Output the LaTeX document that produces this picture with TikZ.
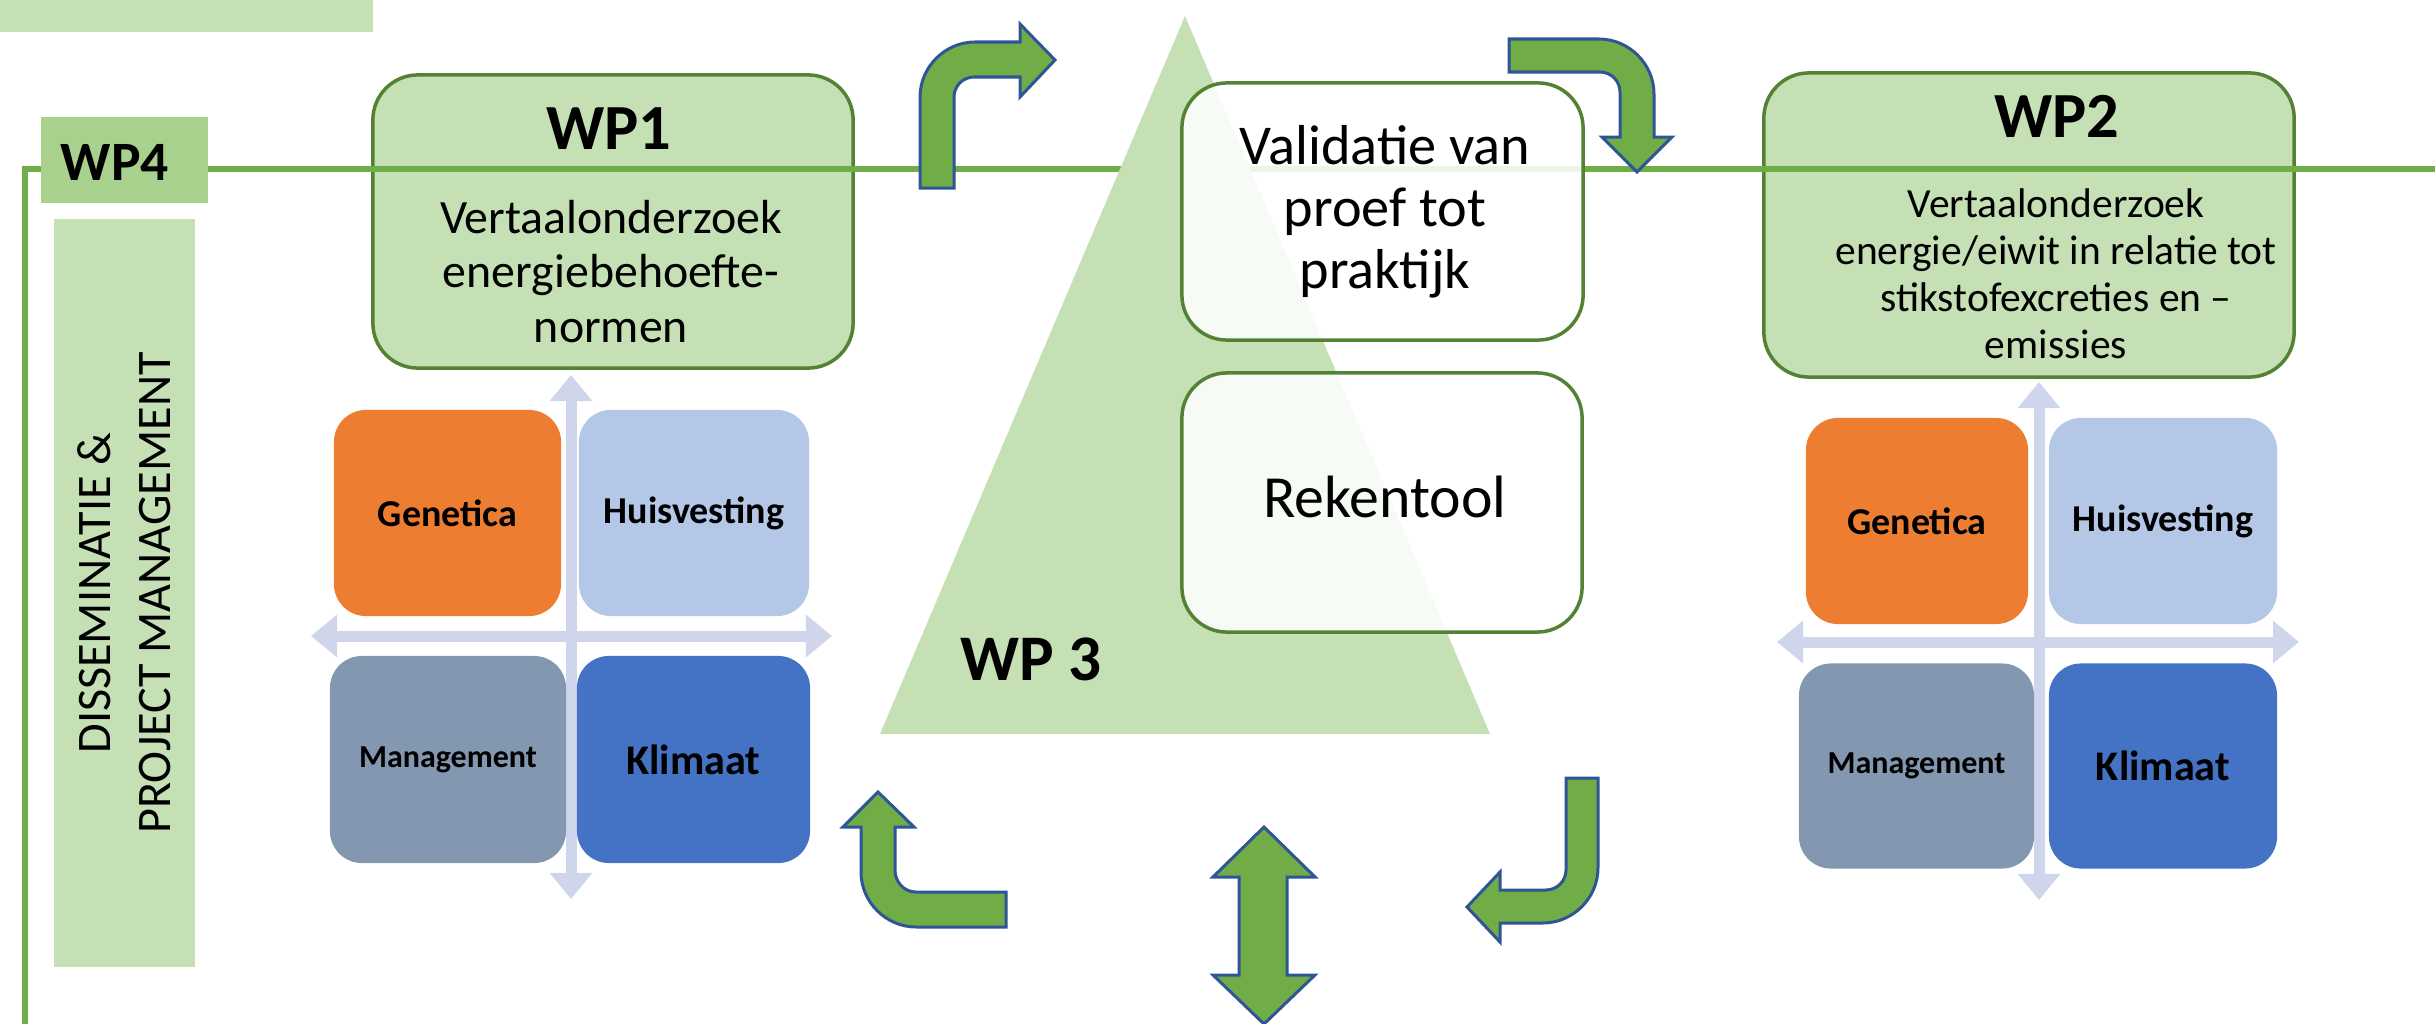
\documentclass[tikz,border=0pt]{standalone}
\usepackage{fontspec}
\setmainfont{Carlito}
\usepackage{xcolor}
\usepackage{tikz}
\usetikzlibrary{arrows.meta}
\definecolor{wplight}{HTML}{C5E0B4}
\definecolor{wpmid}{HTML}{A9D18E}
\definecolor{wpgreen}{HTML}{70AD47}
\definecolor{wpdark}{HTML}{548235}
\definecolor{wpblue}{HTML}{2F5597}
\definecolor{qaxiscol}{HTML}{CFD5EA}
\definecolor{qorange}{HTML}{ED7D31}
\definecolor{qpale}{HTML}{B4C7E7}
\definecolor{qslate}{HTML}{8497B0}
\definecolor{qblue}{HTML}{4472C4}
\tikzset{
  wpline/.style={line width=0.05cm, draw=wpgreen, line join=miter},
  wpbox/.style={rectangle, rounded corners=0.45cm, fill=wplight, draw=wpdark, line width=0.035cm, inner sep=0pt},
  wpwhite/.style={wpbox, fill=white, fill opacity=0.88},
  wpflat/.style={rectangle, inner sep=0pt, draw=none},
  wptitle/.style={font=\bfseries\fontsize{18.3}{22}\selectfont, inner sep=0pt},
  wpbody/.style={font=\fontsize{13.6}{15.4}\selectfont, align=center, inner sep=0pt},
  wparrow/.style={fill=wpgreen, draw=wpblue, line width=0.03cm, line join=miter},
  qaxis/.style={draw=qaxiscol, line width=0.11cm,
    arrows={Triangle[width=0.41cm,length=0.26cm]-Triangle[width=0.41cm,length=0.26cm]}},
  qbox/.style={rectangle, rounded corners=0.32cm, inner sep=0pt, draw=none},
  qgen/.style={qbox, fill=qorange, font=\bfseries\fontsize{10.8}{12}\selectfont},
  qhuis/.style={qbox, fill=qpale, font=\bfseries\fontsize{10.8}{12}\selectfont},
  qman/.style={qbox, fill=qslate, font=\bfseries\fontsize{9.1}{11}\selectfont},
  qklim/.style={qbox, fill=qblue, font=\bfseries\fontsize{12}{14}\selectfont},
}
\begin{document}
\begin{tikzpicture}[x=0.01cm, y=-0.01cm]
\useasboundingbox (0,0) rectangle (2435,1024);
\fill[wplight] (0,0) rectangle (373,32);
\node[wpbox, minimum width=4.80cm, minimum height=2.93cm] (wp1box) at (613,221.5) {};
\node[wpbox, minimum width=5.30cm, minimum height=3.04cm] (wp2box) at (2029,225) {};
\draw[wpline] (25,1024) -- (25,169) -- (2435,169);
\node[wpflat, fill=wpmid, minimum width=1.67cm, minimum height=0.86cm] (wp4box) at (124.5,160) {};
\node[wptitle, font=\bfseries\fontsize{15.8}{19}\selectfont, anchor=base] (wp4title) at (115,180) {WP4};
\node[wpflat, fill=wplight, minimum width=1.41cm, minimum height=7.48cm] (dissbox) at (124.5,593) {};
\node[wpbody, font=\fontsize{13.7}{17}\selectfont, rotate=90] (disstext) at (dissbox.center) {DISSEMINATIE \&\\PROJECT MANAGEMENT};
\node[wptitle, anchor=base] (wp1title) at (609,149) {WP1};
\node[wpbody, anchor=base] (wp1text) at (611,342) {Vertaalonderzoek\\energiebehoefte-\\normen};
\node[wptitle, anchor=base] (wp2title) at (2057,137) {WP2};
\node[wpbody, font=\fontsize{11.8}{13.3}\selectfont, anchor=base] (wp2text) at (2056,358) {Vertaalonderzoek\\energie/eiwit in relatie tot\\stikstofexcreties en –\\emissies};
\fill[wplight] (1185,16) -- (1490,734) -- (880,734) -- cycle;
\node[wptitle, font=\bfseries\fontsize{18.5}{22}\selectfont, anchor=base] (wp3title) at (1031,680) {WP 3};
\node[wpwhite, minimum width=4.01cm, minimum height=2.57cm] (validbox) at (1382.5,211.5) {};
\node[wpwhite, minimum width=4.00cm, minimum height=2.59cm] (rekenbox) at (1382,502.5) {};
\node[wpbody, font=\fontsize{16}{17.6}\selectfont, anchor=base] (validtext) at (1385,288) {Validatie van\\proef tot\\praktijk};
\node[wpbody, font=\fontsize{17}{20}\selectfont, anchor=base] (rekentext) at (1385,517) {Rekentool};
\draw[qaxis] (571,375) -- (571,899);
\draw[qaxis] (311,636) -- (832,636);
\node[qgen, minimum width=2.27cm, minimum height=2.06cm] (gen1) at (447.5,513) {Genetica};
\node[qhuis, minimum width=2.30cm, minimum height=2.06cm] (huis1) at (694,513) {Huisvesting};
\node[qman, minimum width=2.36cm, minimum height=2.07cm] (man1) at (448,759.5) {Management};
\node[qklim, minimum width=2.33cm, minimum height=2.07cm] (klim1) at (693.5,759.5) {Klimaat};
\draw[qaxis] (2039,382) -- (2039,900);
\draw[qaxis] (1777,642) -- (2299,642);
\node[qgen, minimum width=2.22cm, minimum height=2.06cm] (gen2) at (1917,521) {Genetica};
\node[qhuis, minimum width=2.28cm, minimum height=2.06cm] (huis2) at (2163,521) {Huisvesting};
\node[qman, minimum width=2.35cm, minimum height=2.05cm] (man2) at (1916.5,766) {Management};
\node[qklim, minimum width=2.28cm, minimum height=2.05cm] (klim2) at (2163,766) {Klimaat};
\draw[wparrow] (920,188) -- (920,97) .. controls (920,67) and (945,42) .. (975,42) -- (1020,42) -- (1020,24) -- (1055,60) -- (1020,97) -- (1020,77) -- (974,77) .. controls (963,77) and (954,86) .. (954,97) -- (954,188) -- cycle;
\draw[wparrow] (1509,39) -- (1599,39) .. controls (1629,39) and (1654,64) .. (1654,94) -- (1654,137) -- (1672,137) -- (1637,172) -- (1602,137) -- (1620,137) -- (1620,92) .. controls (1620,81) and (1611,72) .. (1600,72) -- (1509,72) -- cycle;
\draw[wparrow] (1006,927) -- (916,927) .. controls (886,927) and (861,902) .. (861,872) -- (861,827) -- (843,827) -- (878,792) -- (914,827) -- (895,827) -- (895,870) .. controls (895,882) and (904,892) .. (916,892) -- (1006,892) -- cycle;
\draw[wparrow] (1264,827) -- (1315,877) -- (1287,877) -- (1287,975) -- (1315,975) -- (1264,1024) -- (1213,975) -- (1239,975) -- (1239,877) -- (1213,877) -- cycle;
\draw[wparrow] (1566,778) -- (1598,778) -- (1598,868) .. controls (1598,898) and (1573,923) .. (1543,923) -- (1500,923) -- (1500,942) -- (1467,907) -- (1500,872) -- (1500,890) -- (1546,890) .. controls (1557,890) and (1566,881) .. (1566,870) -- cycle;
\end{tikzpicture}
\end{document}
